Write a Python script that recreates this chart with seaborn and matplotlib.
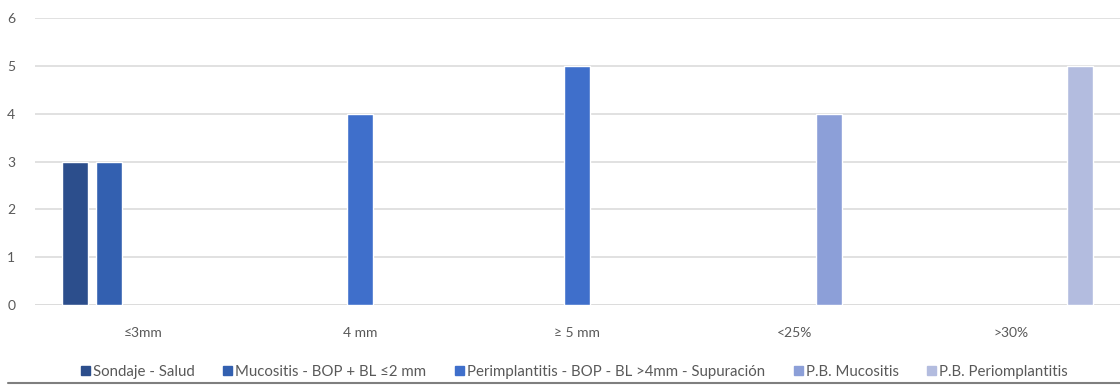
import pandas as pd
import seaborn as sns
import matplotlib.pyplot as plt
from matplotlib.lines import Line2D

# categorías y series
categorias = ['≤3mm', '4 mm', '≥ 5 mm', '<25%', '>30%']
series = ['Sondaje - Salud', 'Mucositis - BOP + BL ≤2 mm',
          'Perimplantitis - BOP - BL >4mm - Supuración',
          'P.B. Mucositis', 'P.B. Periomplantitis']
colores = ['#2C4E8C', '#3360B0', '#3F6FCB', '#8C9FD8', '#B3BCDF']

# valores que aparecen en el gráfico (serie, categoría, valor)
serie_barra = ['Sondaje - Salud', 'Mucositis - BOP + BL ≤2 mm',
               'Perimplantitis - BOP - BL >4mm - Supuración',
               'Perimplantitis - BOP - BL >4mm - Supuración',
               'P.B. Mucositis', 'P.B. Periomplantitis']
categoria_barra = ['≤3mm', '≤3mm', '4 mm', '≥ 5 mm', '<25%', '>30%']
valor_barra = [3, 3, 4, 5, 4, 5]

df = pd.DataFrame({'categoria': categoria_barra, 'serie': serie_barra, 'valor': valor_barra})

sns.set_style("white")
plt.rcParams['font.family'] = ['Lato', 'DejaVu Sans']

fig = plt.figure(figsize=(11.2, 3.85), dpi=100)
ax = fig.add_axes([0.031, 0.208, 0.969, 0.745])

sns.barplot(data=df, x='categoria', y='valor', hue='serie', order=categorias,
            hue_order=series, palette=colores, width=0.79, gap=0.24,
            errorbar=None, ax=ax, legend=False, saturation=1)

ax.set_xlim(-0.5, 4.5)
ax.set_ylim(0, 6)
ax.set_yticks(range(0, 7))
ax.yaxis.grid(True, color='#DCDCDC', linewidth=1.2)
ax.set_axisbelow(True)
for s in ax.spines.values():
    s.set_visible(False)
ax.axhline(0, color='#D9D9D9', linewidth=1.2, zorder=0)
ax.set_xlabel('')
ax.set_ylabel('')
ax.tick_params(axis='x', length=0, pad=16, labelsize=10, labelcolor='#595959')
ax.tick_params(axis='y', length=0, pad=14, labelsize=10, labelcolor='#595959')

handles = [plt.Rectangle((0, 0), 1, 1, color=c) for c in colores]
fig.legend(handles, series, loc='center', bbox_to_anchor=(0.513, 0.034), ncol=5,
           frameon=False, fontsize=10.8, handlelength=0.6, handleheight=0.6,
           handletextpad=0.2, columnspacing=1.9, labelcolor='#595959')

# línea gris inferior
fig.add_artist(Line2D([0.007, 1.0], [0.004, 0.004], color='#7F7F7F', linewidth=1.5,
                      transform=fig.transFigure))

plt.savefig('out.png', dpi=100)
plt.close()
